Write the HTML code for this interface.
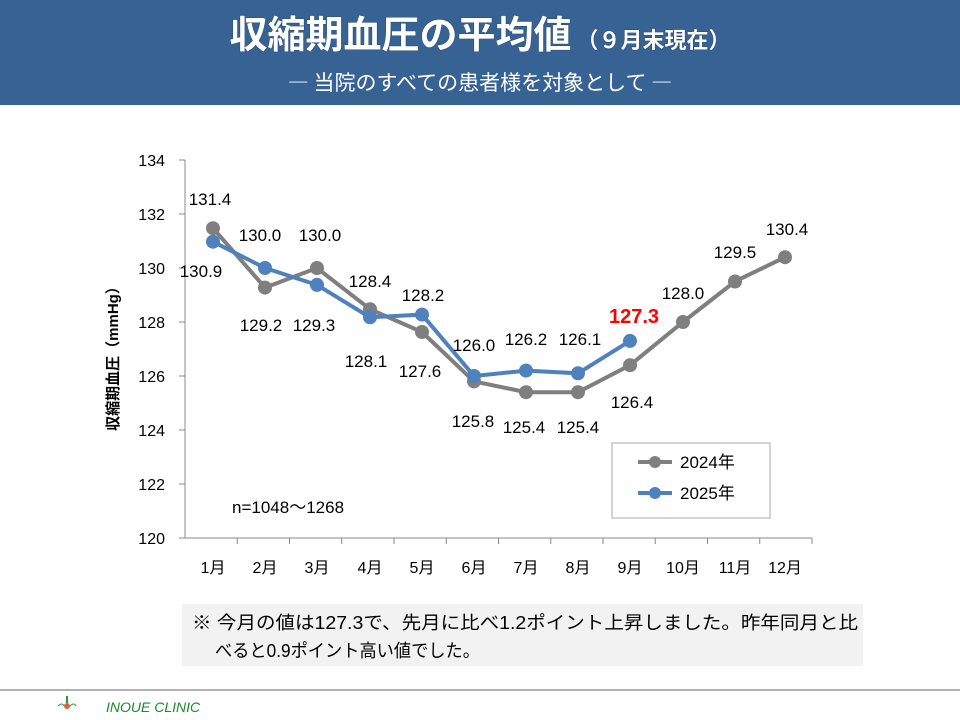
<!DOCTYPE html>
<html><head><meta charset="utf-8"><style>
body{margin:0;width:960px;height:720px;background:#fff;overflow:hidden;font-family:"Liberation Sans","Noto Sans CJK JP",sans-serif;}
</style></head><body>
<svg width="960" height="720" xmlns="http://www.w3.org/2000/svg" style="position:absolute;left:0;top:0">
<rect x="0" y="0" width="960" height="105" fill="#376294"/>
<text x="480" y="48" text-anchor="middle" font-family="Noto Sans CJK JP,sans-serif" font-weight="bold" fill="#fff" style="paint-order:stroke" stroke="#2a4a70" stroke-width="1"><tspan font-size="38">収縮期血圧の平均値</tspan><tspan font-size="22"> （９月末現在）</tspan></text>
<text x="480" y="90" text-anchor="middle" font-family="Noto Sans CJK JP,sans-serif" font-size="21" fill="#fff">―  当院のすべての患者様を対象として  ―</text>
<g font-family="Liberation Sans,Noto Sans CJK JP,sans-serif" font-size="16" fill="#000">
<line x1="185" y1="160" x2="185" y2="538" stroke="#888"/>
<line x1="185" y1="538" x2="812" y2="538" stroke="#888"/>
<g stroke="#888">
<line x1="179" y1="160" x2="185" y2="160"/><line x1="179" y1="214" x2="185" y2="214"/><line x1="179" y1="268" x2="185" y2="268"/><line x1="179" y1="322" x2="185" y2="322"/><line x1="179" y1="376" x2="185" y2="376"/><line x1="179" y1="430" x2="185" y2="430"/><line x1="179" y1="484" x2="185" y2="484"/><line x1="179" y1="538" x2="185" y2="538"/>
<line x1="237.25" y1="538" x2="237.25" y2="544"/><line x1="289.5" y1="538" x2="289.5" y2="544"/><line x1="341.75" y1="538" x2="341.75" y2="544"/><line x1="394" y1="538" x2="394" y2="544"/><line x1="446.25" y1="538" x2="446.25" y2="544"/><line x1="498.5" y1="538" x2="498.5" y2="544"/><line x1="550.75" y1="538" x2="550.75" y2="544"/><line x1="603" y1="538" x2="603" y2="544"/><line x1="655.25" y1="538" x2="655.25" y2="544"/><line x1="707.5" y1="538" x2="707.5" y2="544"/><line x1="759.75" y1="538" x2="759.75" y2="544"/><line x1="812" y1="538" x2="812" y2="544"/>
</g>
<g text-anchor="end"><text x="165" y="166">134</text><text x="165" y="220">132</text><text x="165" y="274">130</text><text x="165" y="328">128</text><text x="165" y="382">126</text><text x="165" y="436">124</text><text x="165" y="490">122</text><text x="165" y="544">120</text></g>
<g text-anchor="middle"><text x="213" y="573">1月</text><text x="265" y="573">2月</text><text x="317" y="573">3月</text><text x="370" y="573">4月</text><text x="422" y="573">5月</text><text x="474" y="573">6月</text><text x="526" y="573">7月</text><text x="578" y="573">8月</text><text x="630" y="573">9月</text><text x="683" y="573">10月</text><text x="735" y="573">11月</text><text x="785" y="573">12月</text></g>
<text transform="translate(118,355) rotate(-90)" text-anchor="middle" font-weight="bold" font-size="15">収縮期血圧（mmHg）</text>
<polyline fill="none" stroke="#7f7f7f" stroke-width="4" points="213,228.2 265,287.6 317,268 370,309.2 422,332 474,381.4 526,392.2 578,392.2 630,365.2 683,322.0 735,281.5 785,257.2"/>
<g fill="#7f7f7f"><circle cx="213" cy="228.2" r="7"/><circle cx="265" cy="287.6" r="7"/><circle cx="317" cy="268" r="7"/><circle cx="370" cy="309.2" r="7"/><circle cx="422" cy="332" r="7"/><circle cx="474" cy="381.4" r="7"/><circle cx="526" cy="392.2" r="7"/><circle cx="578" cy="392.2" r="7"/><circle cx="630" cy="365.2" r="7"/><circle cx="683" cy="322" r="7"/><circle cx="735" cy="281.5" r="7"/><circle cx="785" cy="257.2" r="7"/></g>
<polyline fill="none" stroke="#4f81bd" stroke-width="4" points="213,241.7 265,268 317,284.9 370,317.3 422,314.6 474,376 526,370.6 578,373.3 630,340.9"/>
<g fill="#4f81bd"><circle cx="213" cy="241.7" r="7"/><circle cx="265" cy="268" r="7"/><circle cx="317" cy="284.9" r="7"/><circle cx="370" cy="317.3" r="7"/><circle cx="422" cy="314.6" r="7"/><circle cx="474" cy="376" r="7"/><circle cx="526" cy="370.6" r="7"/><circle cx="578" cy="373.3" r="7"/><circle cx="630" cy="340.9" r="7"/></g>
<g text-anchor="middle" font-size="17">
<text x="210" y="205">131.4</text><text x="260" y="241">130.0</text><text x="320" y="241">130.0</text><text x="370" y="287">128.4</text><text x="423" y="301">128.2</text><text x="474" y="351">126.0</text><text x="526" y="345">126.2</text><text x="580" y="345">126.1</text><text x="634" y="323" fill="#ff0000" font-weight="bold" font-size="20">127.3</text><text x="683" y="299">128.0</text><text x="735" y="258">129.5</text><text x="787" y="235">130.4</text>
<text x="201" y="277">130.9</text><text x="261" y="331">129.2</text><text x="314" y="331">129.3</text><text x="366" y="367">128.1</text><text x="420" y="377">127.6</text><text x="473" y="427">125.8</text><text x="524" y="433">125.4</text><text x="578" y="433">125.4</text><text x="632" y="408">126.4</text>
</g>
<text x="232" y="513" font-size="17">n=1048～1268</text>
<rect x="612" y="443" width="158" height="75" fill="#fff" stroke="#aaa"/>
<line x1="638" y1="462" x2="672" y2="462" stroke="#7f7f7f" stroke-width="4"/><circle cx="655" cy="462" r="6" fill="#7f7f7f"/><text x="680" y="468" font-size="17">2024年</text>
<line x1="638" y1="493" x2="672" y2="493" stroke="#4f81bd" stroke-width="4"/><circle cx="655" cy="493" r="6" fill="#4f81bd"/><text x="680" y="499" font-size="17">2025年</text>
</g>
<rect x="182" y="604" width="681" height="62" fill="#f2f2f2"/>
<g font-family="Liberation Sans,Noto Sans CJK JP,sans-serif" font-size="18" fill="#000">
<text x="192" y="629" textLength="666" lengthAdjust="spacingAndGlyphs">※ 今月の値は127.3で、先月に比べ1.2ポイント上昇しました。昨年同月と比</text>
<text x="215" y="657" textLength="265" lengthAdjust="spacingAndGlyphs">べると0.9ポイント高い値でした。</text>
</g>
<line x1="0" y1="690" x2="960" y2="690" stroke="#999" stroke-width="1.5"/>
<g transform="translate(67,706)"><line x1="0" y1="-10" x2="0" y2="-3" stroke="#2a9a3a" stroke-width="2"/><circle cx="0" cy="0" r="3" fill="#e06040"/><path d="M-9,0 q4,-4 6,0 M3,0 q4,-4 6,0" stroke="#2a9a3a" fill="none"/></g>
<text x="106" y="712" font-family="Liberation Sans,sans-serif" font-style="italic" font-size="14" fill="#1a8a2a">INOUE CLINIC</text>
</svg>
</body></html>
